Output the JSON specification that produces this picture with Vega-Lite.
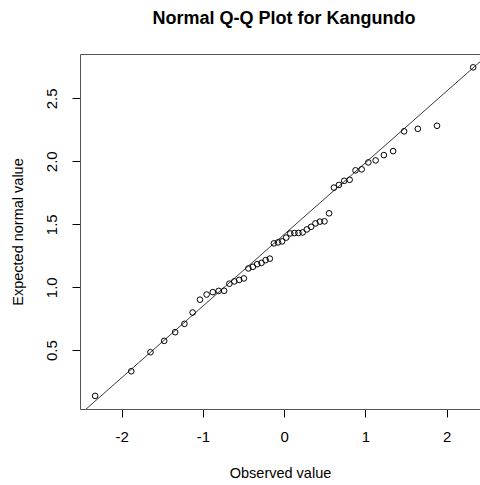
{
  "$schema": "https://vega.github.io/schema/vega-lite/v6.json",
  "width": 400,
  "height": 355,
  "autosize": "none",
  "padding": {"left": 80, "top": 54, "right": 0, "bottom": 76},
  "background": "white",
  "title": {
    "text": "Normal Q-Q Plot for Kangundo",
    "font": "Liberation Sans",
    "fontSize": 18,
    "fontWeight": "bold",
    "color": "black",
    "anchor": "middle",
    "frame": "group",
    "dx": 4,
    "offset": 26
  },
  "config": {
    "view": {"stroke": null},
    "font": "Liberation Sans",
    "axis": {"grid": false}
  },
  "datasets": {
    "points": [
      {"theoretical": -2.326, "observed": 0.137},
      {"theoretical": -1.881, "observed": 0.333},
      {"theoretical": -1.645, "observed": 0.484},
      {"theoretical": -1.476, "observed": 0.574},
      {"theoretical": -1.341, "observed": 0.643},
      {"theoretical": -1.227, "observed": 0.709},
      {"theoretical": -1.126, "observed": 0.799},
      {"theoretical": -1.036, "observed": 0.901},
      {"theoretical": -0.954, "observed": 0.942},
      {"theoretical": -0.878, "observed": 0.961},
      {"theoretical": -0.806, "observed": 0.971},
      {"theoretical": -0.739, "observed": 0.972},
      {"theoretical": -0.674, "observed": 1.028},
      {"theoretical": -0.613, "observed": 1.046},
      {"theoretical": -0.553, "observed": 1.058},
      {"theoretical": -0.496, "observed": 1.070},
      {"theoretical": -0.440, "observed": 1.149},
      {"theoretical": -0.385, "observed": 1.162},
      {"theoretical": -0.332, "observed": 1.183},
      {"theoretical": -0.279, "observed": 1.193},
      {"theoretical": -0.228, "observed": 1.215},
      {"theoretical": -0.176, "observed": 1.227},
      {"theoretical": -0.126, "observed": 1.348},
      {"theoretical": -0.075, "observed": 1.356},
      {"theoretical": -0.025, "observed": 1.364},
      {"theoretical": 0.025, "observed": 1.394},
      {"theoretical": 0.075, "observed": 1.427},
      {"theoretical": 0.126, "observed": 1.430},
      {"theoretical": 0.176, "observed": 1.431},
      {"theoretical": 0.228, "observed": 1.435},
      {"theoretical": 0.279, "observed": 1.459},
      {"theoretical": 0.332, "observed": 1.480},
      {"theoretical": 0.385, "observed": 1.507},
      {"theoretical": 0.440, "observed": 1.521},
      {"theoretical": 0.496, "observed": 1.523},
      {"theoretical": 0.553, "observed": 1.587},
      {"theoretical": 0.613, "observed": 1.791},
      {"theoretical": 0.674, "observed": 1.812},
      {"theoretical": 0.739, "observed": 1.845},
      {"theoretical": 0.806, "observed": 1.853},
      {"theoretical": 0.878, "observed": 1.928},
      {"theoretical": 0.954, "observed": 1.936},
      {"theoretical": 1.036, "observed": 1.991},
      {"theoretical": 1.126, "observed": 2.007},
      {"theoretical": 1.227, "observed": 2.049},
      {"theoretical": 1.341, "observed": 2.081},
      {"theoretical": 1.476, "observed": 2.238},
      {"theoretical": 1.645, "observed": 2.258},
      {"theoretical": 1.881, "observed": 2.282},
      {"theoretical": 2.326, "observed": 2.746}
    ],
    "qqline": [
      {"theoretical": -3, "observed": -0.288},
      {"theoretical": 3, "observed": 3.126}
    ]
  },
  "layer": [
    {
      "data": {"name": "qqline"},
      "mark": {"type": "line", "clip": true, "color": "#222222", "strokeWidth": 0.9},
      "encoding": {
        "x": {
          "field": "theoretical",
          "type": "quantitative",
          "scale": {"domain": [-2.512, 2.41], "nice": false, "zero": false},
          "axis": {
            "orient": "top",
            "labels": false,
            "ticks": false,
            "title": null,
            "domain": true,
            "domainColor": "#555555",
            "domainWidth": 1
          }
        },
        "y": {
          "field": "observed",
          "type": "quantitative",
          "scale": {"domain": [0.033, 2.852], "nice": false, "zero": false}
        }
      }
    },
    {
      "data": {"name": "points"},
      "mark": {"type": "point", "shape": "circle", "filled": false, "size": 32, "color": "black", "strokeWidth": 1, "opacity": 1},
      "encoding": {
        "x": {
          "field": "theoretical",
          "type": "quantitative",
          "axis": {
            "orient": "bottom",
            "title": "Observed value",
            "values": [-2, -1, 0, 1, 2],
            "labelExpr": "'' + datum.value",
            "labelFontSize": 15,
            "labelColor": "black",
            "labelPadding": 12,
            "tickSize": 8,
            "tickColor": "black",
            "domain": true,
            "domainColor": "#555555",
            "domainWidth": 1,
            "titleFontSize": 14.5,
            "titleFontWeight": "normal",
            "titleColor": "black",
            "titlePadding": 22
          }
        },
        "y": {
          "field": "observed",
          "type": "quantitative",
          "axis": {
            "title": "Expected normal value",
            "values": [0.5, 1, 1.5, 2, 2.5],
            "format": ".1f",
            "labelAngle": -90,
            "labelAlign": "center",
            "labelBaseline": "bottom",
            "labelFontSize": 15,
            "labelColor": "black",
            "labelPadding": 13,
            "tickSize": 8,
            "tickColor": "black",
            "domain": true,
            "domainColor": "#555555",
            "domainWidth": 1,
            "titleFontSize": 14.5,
            "titleFontWeight": "normal",
            "titleColor": "black",
            "titlePadding": 19
          }
        }
      }
    }
  ]
}
